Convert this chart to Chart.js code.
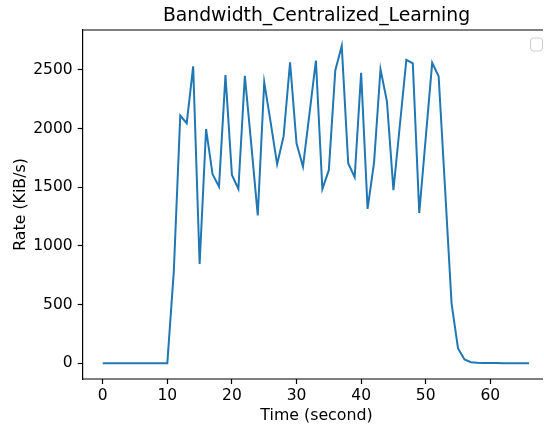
<!DOCTYPE html>
<html>
<head>
<meta charset="utf-8">
<script src="https://cdn.jsdelivr.net/npm/chart.js@4/dist/chart.umd.min.js"></script>
<style>
  html, body { margin: 0; padding: 0; background: #fff; overflow: hidden; }
  #wrap { width: 544px; height: 425px; }
</style>
</head>
<body>
<div id="wrap"><canvas id="c" width="544" height="425"></canvas></div>
<script>
const chartTitle = "Bandwidth_Centralized_Learning";
const xLabel = "Time (second)";
const yLabel = "Rate (KiB/s)";
const timeSeconds = [0,1,2,3,4,5,6,7,8,9,10,11,12,13,14,15,16,17,18,19,20,21,22,23,24,25,26,27,28,29,30,31,32,33,34,35,36,37,38,39,40,41,42,43,44,45,46,47,48,49,50,51,52,53,54,55,56,57,58,59,60,61,62,63,64,65,66];
const rateKiB = [0,0,0,0,0,0,0,0,0,0,0,780,2110,2045,2530,845,1995,1610,1505,2455,1605,1485,2450,1860,1260,2395,2050,1695,1935,2565,1875,1675,2125,2580,1485,1645,2495,2705,1705,1585,2475,1315,1710,2505,2230,1475,2030,2585,2555,1280,1920,2560,2445,1480,510,125,32,8,3,2,1,1,0,0,0,0,0];
const xTicks = [0,10,20,30,40,50,60];
const yTicks = [0,500,1000,1500,2000,2500];

const FONT = "'DejaVu Sans', sans-serif";
const points = timeSeconds.map((t, i) => ({ x: t, y: rateKiB[i] }));

const decor = {
  id: 'decor',
  afterDraw(chart) {
    const { ctx, chartArea: a } = chart;
    const axesCenter = 316.5; // centre of the full (uncropped) axes box
    const edge = 543;
    ctx.save();
    ctx.strokeStyle = '#000';
    ctx.lineWidth = 1.2;
    ctx.lineCap = 'butt';
    ctx.beginPath();
    ctx.moveTo(a.left - 0.6, a.top);
    ctx.lineTo(edge, a.top);
    ctx.moveTo(a.left - 0.6, a.bottom);
    ctx.lineTo(edge, a.bottom);
    ctx.stroke();
    // empty legend box
    ctx.fillStyle = 'rgba(255,255,255,0.8)';
    ctx.strokeStyle = '#cccccc';
    ctx.lineWidth = 1;
    ctx.beginPath();
    ctx.roundRect(530.5, a.top + 8, 12, 13, 3);
    ctx.fill();
    ctx.stroke();
    // title and x-axis label
    ctx.fillStyle = '#000';
    ctx.textAlign = 'center';
    ctx.textBaseline = 'middle';
    ctx.font = "18.8px " + FONT;
    ctx.fillText(chartTitle, axesCenter, 16);
    ctx.font = "15.8px " + FONT;
    ctx.fillText(xLabel, axesCenter, 416);
    ctx.restore();
  }
};

new Chart(document.getElementById('c'), {
  type: 'line',
  data: {
    datasets: [{
      data: points,
      borderColor: '#1f77b4',
      borderWidth: 2,
      pointRadius: 0,
      tension: 0,
      fill: false
    }]
  },
  options: {
    responsive: false,
    animation: false,
    devicePixelRatio: 1,
    layout: { padding: { left: 0, right: 8, top: 30, bottom: 0 } },
    plugins: { legend: { display: false }, tooltip: { enabled: false }, title: { display: false } },
    scales: {
      x: {
        type: 'linear',
        min: -3.1,
        max: 67.07,
        afterBuildTicks: s => { s.ticks = xTicks.map(v => ({ value: v })); },
        afterFit: s => { s.height = 46; },
        grid: { drawOnChartArea: false, drawTicks: true, tickLength: 5, tickColor: '#000', tickWidth: 1.2 },
        border: { display: false },
        ticks: { color: '#000', font: { family: FONT, size: 15.5 }, padding: 3, maxRotation: 0, autoSkip: false, callback: v => String(v) },
        title: { display: false }
      },
      y: {
        type: 'linear',
        min: -135,
        max: 2840,
        afterBuildTicks: s => { s.ticks = yTicks.map(v => ({ value: v })); },
        afterFit: s => { s.width = 82.7; },
        grid: { drawOnChartArea: false, drawTicks: true, tickLength: 5, tickColor: '#000', tickWidth: 1.2 },
        border: { display: true, color: '#000', width: 1.2 },
        ticks: { color: '#000', font: { family: FONT, size: 15.5 }, padding: 5, autoSkip: false, callback: v => String(v) },
        title: { display: true, text: yLabel, color: '#000', font: { family: FONT, size: 15.8 }, padding: { top: 11, bottom: 0 } }
      }
    }
  },
  plugins: [decor]
});
</script>
</body>
</html>
